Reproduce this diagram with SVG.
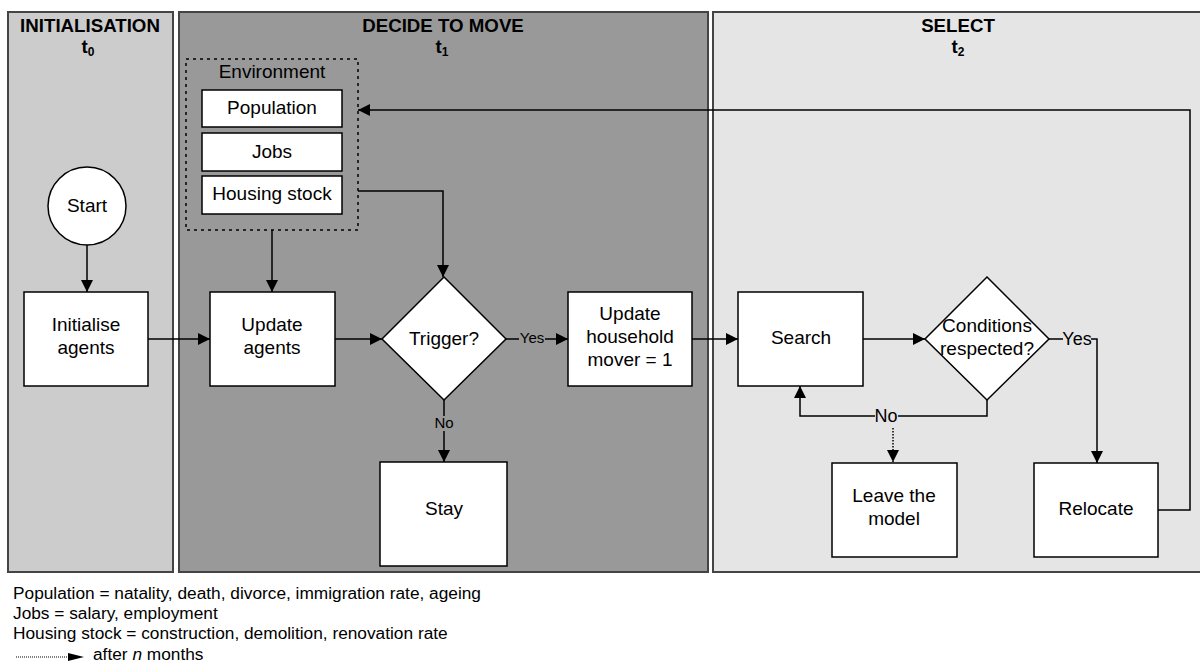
<svg xmlns="http://www.w3.org/2000/svg" width="1200" height="664" viewBox="0 0 1200 664">
<style>
text{font-family:"Liberation Sans",Arial,sans-serif;fill:#000}
.lane{stroke:#444;stroke-width:2}
.hd{font-size:18.7px;font-weight:bold;text-anchor:middle}
.box{fill:#fff;stroke:#000;stroke-width:1.5}
.lbl{font-size:19px;text-anchor:middle}
.small{font-size:15px;text-anchor:middle}
.mid{font-size:18px;text-anchor:middle}
.ln{fill:none;stroke:#000;stroke-width:1.5}
.foot{font-size:17.3px}
</style>
<defs>
<marker id="ah" viewBox="0 0 10 10" refX="10" refY="5" markerWidth="18" markerHeight="12" markerUnits="userSpaceOnUse" orient="auto"><path d="M0,0L10,5L0,10z" fill="#000"/></marker>
</defs>
<rect width="1200" height="664" fill="#fff"/>
<g id="lane-init">
<rect class="lane" x="8" y="12" width="165" height="560" fill="#cccccc"/>
<text class="hd" x="90" y="32">INITIALISATION</text>
<text class="hd" x="88" y="53">t<tspan font-size="12" dy="3">0</tspan></text>
</g>
<g id="lane-decide">
<rect class="lane" x="179" y="12" width="529" height="560" fill="#999999"/>
<text class="hd" x="443" y="32">DECIDE TO MOVE</text>
<text class="hd" x="442" y="53">t<tspan font-size="12" dy="3">1</tspan></text>
</g>
<g id="lane-select">
<rect class="lane" x="713" y="12" width="495" height="560" fill="#e5e5e5"/>
<text class="hd" x="958" y="32">SELECT</text>
<text class="hd" x="958" y="53">t<tspan font-size="12" dy="3">2</tspan></text>
</g>
<g id="connectors">
<path class="ln" d="M87,245V292" marker-end="url(#ah)"/>
<path class="ln" d="M148,339H210" marker-end="url(#ah)"/>
<path class="ln" d="M272,230V292" marker-end="url(#ah)"/>
<path class="ln" d="M358,191H443V277" marker-end="url(#ah)"/>
<path class="ln" d="M335,339H382" marker-end="url(#ah)"/>
<path class="ln" d="M506,339H568" marker-end="url(#ah)"/>
<path class="ln" d="M444,400V462" marker-end="url(#ah)"/>
<path class="ln" d="M692,339H738" marker-end="url(#ah)"/>
<path class="ln" d="M863,339H925" marker-end="url(#ah)"/>
<path class="ln" d="M1049,339H1097V463" marker-end="url(#ah)"/>
<path class="ln" d="M987,400V416H800V386" marker-end="url(#ah)"/>
<path class="ln" d="M893,428V462" stroke-dasharray="1.5,1.5" stroke-width="1.2" marker-end="url(#ah)"/>
<path class="ln" d="M1158,510H1190V110H358" marker-end="url(#ah)"/>
<rect x="519" y="331" width="26" height="15" fill="#999999"/>
<text class="small" x="532" y="343">Yes</text>
<rect x="434" y="416" width="20" height="15" fill="#999999"/>
<text class="small" x="444" y="428">No</text>
<rect x="1063" y="330" width="28" height="17" fill="#e5e5e5"/>
<text class="mid" x="1077" y="345">Yes</text>
<rect x="875" y="407" width="23" height="17" fill="#e5e5e5"/>
<text class="mid" x="886" y="422">No</text>
</g>
<g id="start">
<circle cx="87" cy="206" r="39" class="box"/>
<text class="lbl" x="87" y="212">Start</text>
</g>
<g id="initialise">
<rect class="box" x="24" y="292" width="124" height="94"/>
<text class="lbl" x="86" y="331">Initialise</text>
<text class="lbl" x="86" y="354">agents</text>
</g>
<g id="environment">
<rect x="186" y="59" width="172" height="171" fill="none" stroke="#000" stroke-width="1.5" stroke-dasharray="3,4"/>
<text class="lbl" x="272" y="78">Environment</text>
</g>
<g id="population">
<rect class="box" x="202" y="90" width="140" height="37"/>
<text class="lbl" x="272" y="114">Population</text>
</g>
<g id="jobs">
<rect class="box" x="202" y="133" width="140" height="38"/>
<text class="lbl" x="272" y="158">Jobs</text>
</g>
<g id="housing">
<rect class="box" x="202" y="176" width="140" height="38"/>
<text class="lbl" x="272" y="200">Housing stock</text>
</g>
<g id="update-agents">
<rect class="box" x="210" y="292" width="125" height="94"/>
<text class="lbl" x="272" y="331">Update</text>
<text class="lbl" x="272" y="354">agents</text>
</g>
<g id="trigger">
<path class="box" d="M444,277L506,339L444,400L382,339z"/>
<text class="lbl" x="444" y="345">Trigger?</text>
</g>
<g id="update-household">
<rect class="box" x="568" y="292" width="124" height="94"/>
<text class="lbl" x="630" y="320">Update</text>
<text class="lbl" x="630" y="343">household</text>
<text class="lbl" x="630" y="366">mover = 1</text>
</g>
<g id="stay">
<rect class="box" x="380" y="462" width="127" height="104"/>
<text class="lbl" x="444" y="515">Stay</text>
</g>
<g id="search">
<rect class="box" x="738" y="292" width="125" height="94"/>
<text class="lbl" x="801" y="344">Search</text>
</g>
<g id="conditions">
<path class="box" d="M987,277L1049,339L987,400L925,339z"/>
<text class="lbl" x="987" y="332">Conditions</text>
<text class="lbl" x="987" y="355">respected?</text>
</g>
<g id="leave">
<rect class="box" x="832" y="463" width="125" height="94"/>
<text class="lbl" x="894" y="502">Leave the</text>
<text class="lbl" x="894" y="525">model</text>
</g>
<g id="relocate">
<rect class="box" x="1034" y="463" width="124" height="94"/>
<text class="lbl" x="1096" y="515">Relocate</text>
</g>
<g id="legend">
<text class="foot" x="13" y="599">Population = natality, death, divorce, immigration rate, ageing</text>
<text class="foot" x="13" y="619">Jobs = salary, employment</text>
<text class="foot" x="13" y="639">Housing stock = construction, demolition, renovation rate</text>
<path d="M16,657H68" stroke="#000" stroke-width="1" stroke-dasharray="1,1" fill="none"/>
<path d="M68,653L84,657L68,661z" fill="#000"/>
<text class="foot" x="93" y="660">after <tspan font-style="italic">n</tspan> months</text>
</g>
</svg>
